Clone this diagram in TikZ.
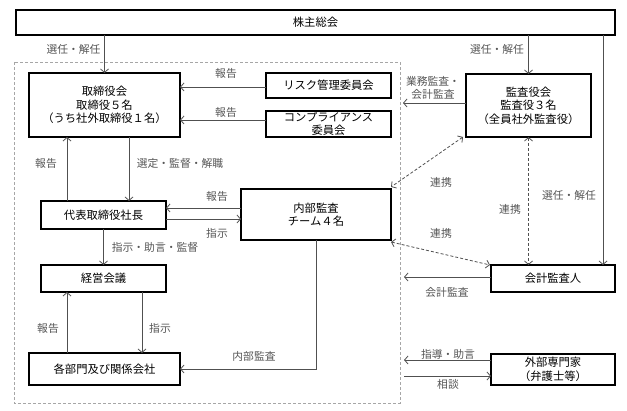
\documentclass[tikz,border=0pt]{standalone}
\usepackage{fontspec}
\setmainfont{Noto Sans CJK JP}
\usetikzlibrary{arrows.meta,calc}
\definecolor{lbl}{HTML}{555555}
\definecolor{ln}{HTML}{505050}
\tikzset{
  box/.style={draw=black,line width=2.4pt,fill=white,inner sep=0pt,outer sep=0pt,align=center,font=\fontsize{11.3}{13.5}\selectfont},
  arr/.style={draw=ln,line width=0.8pt,-{Straight Barb[length=3.5pt,width=8pt]}},
  darr/.style={draw=ln,line width=0.8pt,densely dashed,{Straight Barb[length=3.5pt,width=8pt]}-{Straight Barb[length=3.5pt,width=8pt]}},
  lab/.style={text=lbl,font=\fontsize{10.8}{13}\selectfont,inner sep=0pt,align=center},
}
\begin{document}
\begin{tikzpicture}[x=1pt,y=-1pt]
\useasboundingbox (0,0) rectangle (627,411);
% dashed company boundary
\draw[draw=gray!70,line width=0.6pt,densely dashed] (14,62) rectangle (400,403);

% nodes
\node[box,minimum width=599pt,minimum height=25pt] (sh) at (315.5,22.5) {株主総会};
\node[box,minimum width=151pt,minimum height=64pt] (tb) at (104.5,105) {取締役会\\取締役５名\\（うち社外取締役１名）};
\node[box,minimum width=125pt,minimum height=25pt] (risk) at (328.5,85.5) {リスク管理委員会};
\node[box,minimum width=125pt,minimum height=26pt] (comp) at (328.5,124) {コンプライアンス\\委員会};
\node[box,minimum width=125pt,minimum height=63pt] (kansa) at (528.5,105.5) {監査役会\\監査役３名\\（全員社外監査役）};
\node[box,minimum width=125pt,minimum height=28pt] (ceo) at (103.5,215) {代表取締役社長};
\node[box,minimum width=150pt,minimum height=51pt] (naibu) at (316,214.5) {内部監査\\チーム４名};
\node[box,minimum width=125pt,minimum height=27pt] (keiei) at (103.5,278.5) {経営会議};
\node[box,minimum width=151pt,minimum height=32pt] (bumon) at (104.5,369) {各部門及び関係会社};
\node[box,minimum width=124pt,minimum height=27pt] (kaikei) at (553,278.5) {会計監査人};
\node[box,minimum width=124pt,minimum height=31pt] (gaibu) at (553,369.5) {外部専門家\\（弁護士等）};

% free ends
\coordinate (ka1) at (403,103);
\coordinate (kk1) at (404,277);
\coordinate (g1) at (404,360);
\coordinate (g2) at (404,376);

% connectors
\draw[arr] (tb.north |- sh.south) -- (tb.north);
\draw[arr] (kansa.north |- sh.south) -- (kansa.north);
\draw[arr] ([xshift=50pt]kaikei.north |- sh.south) -- ([xshift=50pt]kaikei.north);
\draw[arr] ([yshift=-1.5pt]risk.west) -- ([yshift=-1.5pt]risk.west -| tb.east);
\draw[arr] ([yshift=4pt]comp.west) -- ([yshift=4pt]comp.west -| tb.east);
\draw[arr] (kansa.west |- ka1) -- (ka1);
\draw[arr] ([xshift=-36.5pt]ceo.north) -- ([xshift=-36.5pt]ceo.north |- tb.south);
\draw[arr] ([xshift=24.5pt]tb.south) -- ([xshift=24.5pt]tb.south |- ceo.north);
\draw[arr] ([yshift=6.5pt]naibu.west) -- ([yshift=6.5pt]naibu.west -| ceo.east);
\draw[arr] ([yshift=-4pt]ceo.east) -- ([yshift=-4pt]ceo.east -| naibu.west);
\draw[arr] (ceo.south) -- (keiei.north);
\draw[arr] ([xshift=-37.5pt]bumon.north) -- ([xshift=-37.5pt]bumon.north |- keiei.south);
\draw[arr] ([xshift=38.5pt]keiei.south) -- ([xshift=38.5pt]keiei.south |- bumon.north);
\draw[arr] (naibu.south) -- (naibu.south |- bumon.east) -- (bumon.east);
\draw[arr] (kaikei.west |- kk1) -- (kk1);
\draw[arr] (gaibu.west |- g1) -- (g1);
\draw[arr] (g2) -- (g2 -| gaibu.west);
\draw[darr] ([xshift=-3pt]kansa.south west) -- ([yshift=2pt]naibu.north east);
\draw[darr] (kansa.south) -- (kansa.south |- kaikei.north);
\draw[darr] ([yshift=-2pt]naibu.south east) -- ([xshift=-1pt]kaikei.north west);

% labels
\node[lab] (l1) at (73.5,49) {選任・解任};
\node[lab] (l2) at (226,73) {報告};
\node[lab] (l3) at (226,112) {報告};
\node[lab] (l4) at (497,49) {選任・解任};
\node[lab] (l5) at (433,87.5) {業務監査・\\会計監査};
\node[lab] (l6) at (46,163) {報告};
\node[lab] (l7) at (180,163) {選定・監督・解職};
\node[lab] (l8) at (217,196) {報告};
\node[lab] (l9) at (217,233) {指示};
\node[lab] (l10) at (155,247) {指示・助言・監督};
\node[lab] (l11) at (441,182) {連携};
\node[lab] (l12) at (510,209) {連携};
\node[lab] (l13) at (569,195) {選任・解任};
\node[lab] (l14) at (441,233) {連携};
\node[lab] (l15) at (447,292) {会計監査};
\node[lab] (l16) at (48,328) {報告};
\node[lab] (l17) at (160,328) {指示};
\node[lab] (l18) at (254,356) {内部監査};
\node[lab] (l19) at (448,354) {指導・助言};
\node[lab] (l20) at (448,384) {相談};
\end{tikzpicture}
\end{document}
